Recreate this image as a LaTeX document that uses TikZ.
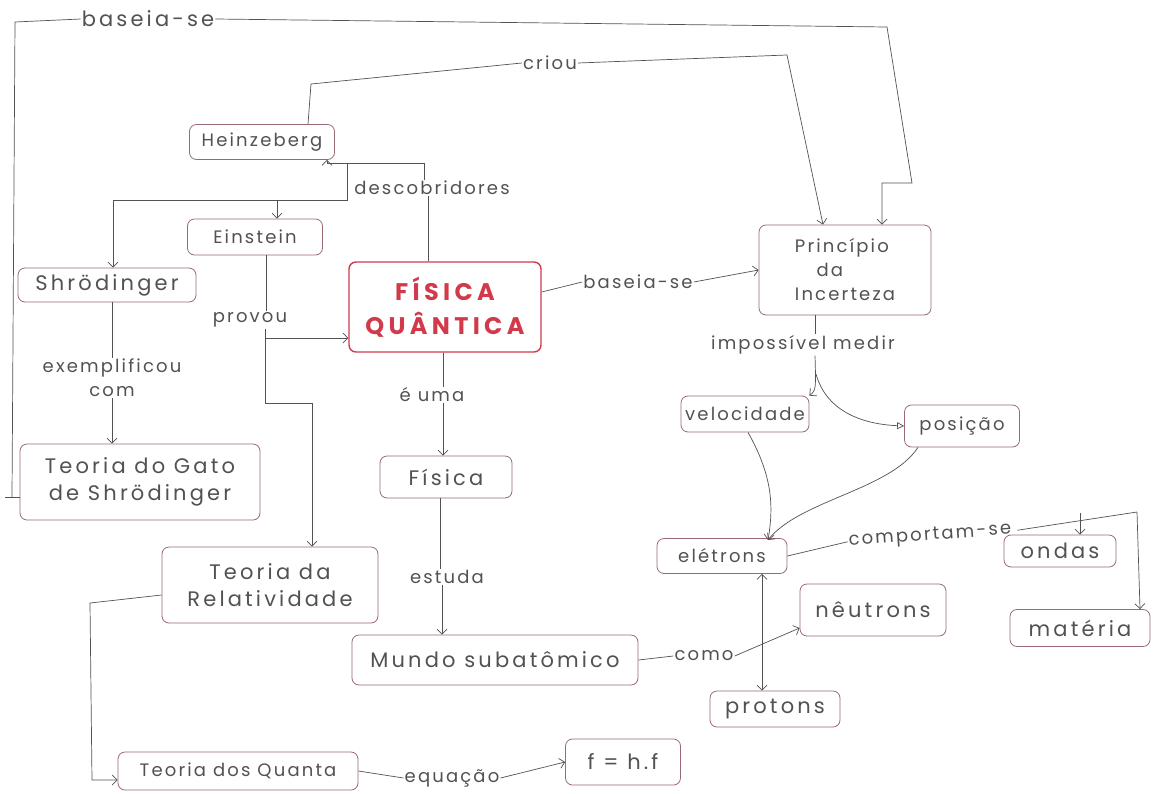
\documentclass[tikz,border=0pt]{standalone}
\usepackage{fontspec}
\setmainfont{Poppins}[LetterSpace=12]
\usetikzlibrary{arrows.meta}
\definecolor{ink}{HTML}{525252}
\definecolor{boxpen}{HTML}{9A6A72}
\definecolor{qred}{HTML}{D23A4C}

\begin{document}
\begin{tikzpicture}[x=1pt,y=-1pt,
  every node/.style={text=ink, font=\fontsize{18}{24}\selectfont},
  wide/.style={font=\fontsize{21}{27}\selectfont\addfontfeature{LetterSpace=15}},
  concept/.style={draw=boxpen, rounded corners=7pt, line width=0.8pt,
    inner sep=0pt, align=center},
  lbl/.style={inner sep=1pt, align=center},
  link/.style={draw=ink, line width=0.7pt},
  arr/.style={link, -{Straight Barb[length=5pt,width=10pt]}},
  tri/.style={link, -{Triangle[open,length=7pt,width=7pt]}},
]
\useasboundingbox[fill=white] (0,0) rectangle (1154,793);

% concepts
\node[concept, minimum width=145pt, minimum height=35pt] (heinz) at (262,142) {Heinzeberg};
\node[concept, minimum width=135pt, minimum height=36pt] (einst) at (255,237) {Einstein};
\node[concept, wide, minimum width=178pt, minimum height=34pt] (shro) at (107,285) {Shrödinger};
\node[concept, draw=qred, line width=1.4pt, minimum width=192pt, minimum height=90pt,
  text=qred, font=\fontsize{24}{34}\selectfont\bfseries\addfontfeature{LetterSpace=18}] (fq) at (445,307) {FÍSICA\\QUÂNTICA};
\node[concept, minimum width=172pt, minimum height=90pt, align=left] (princ) at (845,270)
  {Princípio\\\hspace*{1.2em}da\\Incerteza};
\node[concept, minimum width=128pt, minimum height=36pt] (veloc) at (745,414) {velocidade};
\node[concept, minimum width=115pt, minimum height=42pt] (posic) at (962,426) {posição};
\node[concept, wide, minimum width=240pt, minimum height=76pt] (gato) at (140,482) {Teoria do Gato\\de Shrödinger};
\node[concept, wide, minimum width=132pt, minimum height=42pt] (fisica) at (446,477) {Física};
\node[concept, minimum width=130pt, minimum height=35pt] (eletr) at (722,556) {elétrons};
\node[concept, wide, minimum width=112pt, minimum height=32pt] (ondas) at (1060,551) {ondas};
\node[concept, wide, minimum width=216pt, minimum height=76pt] (relat) at (270,585) {Teoria da\\Relatividade};
\node[concept, wide, minimum width=146pt, minimum height=52pt] (neutr) at (873,610) {nêutrons};
\node[concept, wide, minimum width=140pt, minimum height=37pt] (mater) at (1080,628) {matéria};
\node[concept, wide, minimum width=286pt, minimum height=50pt] (mundo) at (495,660) {Mundo subatômico};
\node[concept, wide, minimum width=130pt, minimum height=36pt] (proto) at (775,709) {protons};
\node[concept, minimum width=240pt, minimum height=38pt] (quanta) at (238,771) {Teoria dos Quanta};
\node[concept, wide, minimum width=115pt, minimum height=46pt] (eq) at (623,762) {f = h.f};

% linking phrases
\node[lbl, wide] (lbase1) at (148,19) {baseia-se};
\node[lbl] (lcriou) at (550,63) {criou};
\node[lbl] (ldesc) at (432,188) {descobridores};
\node[lbl] (lprov) at (250,320) {provou};
\node[lbl] (lexem) at (112,378) {exemplificou\\com};
\node[lbl] (lbase2) at (638,282) {baseia-se};
\node[lbl] (limp) at (803,345) {impossível medir};
\node[lbl] (luma) at (432,395) {é uma};
\node[lbl] (lestu) at (447,577) {estuda};
\node[lbl, rotate=4] (lcomp) at (930,536) {comportam-se};
\node[lbl] (lcomo) at (704,656) {como};
\node[lbl] (lequa) at (452,778) {equação};

% Teoria do Gato -> baseia-se -> Princípio
\draw[link] (gato.west |- 0,497) -- (5,497);
\draw[link] (12,497) -- (15,22) -- (lbase1.west);
\draw[arr] (lbase1.east) -- (887,27) -- (912,183) -- (882,183) -- (882,0 |- princ.north);

% Heinzeberg -> criou -> Princípio
\draw[link] (308,0 |- heinz.north) -- (311,84) -- (lcriou.west);
\draw[arr] (lcriou.east) -- (787,55) -- (823,0 |- princ.north);

% Física Quântica -> descobridores -> Heinzeberg, Einstein, Shrödinger
\draw[link] (428,0 |- fq.north) -- (428,0 |- ldesc.south);
\draw[arr] (424,0 |- ldesc.north) -- (424,163) -- (327,163) -- (327,0 |- heinz.south);
\draw[link] (347,163) -- (347,200) -- (113,200);
\draw[arr] (113,200) -- (113,0 |- shro.north);
\draw[arr] (277,200) -- (277,0 |- einst.north);

% Einstein -> provou -> Física Quântica, Relatividade
\draw[link] (266,0 |- einst.south) -- (266,0 |- lprov.north);
\draw[link] (265,0 |- lprov.south) -- (265,403) -- (312,403);
\draw[arr] (312,403) -- (312,0 |- relat.north);
\draw[arr] (265,338) -- (fq.west |- 0,338);

% Shrödinger -> exemplificou com -> Teoria do Gato
\draw[link] (112,0 |- shro.south) -- (lexem.north);
\draw[arr] (lexem.south) -- (112,0 |- gato.north);

% Física Quântica -> é uma -> Física -> estuda -> Mundo subatômico
\draw[link] (443,0 |- fq.south) -- (443,0 |- luma.north);
\draw[arr] (443,0 |- luma.south) -- (443,0 |- fisica.north);
\draw[link] (440,0 |- fisica.south) -- (440,0 |- lestu.north);
\draw[arr] (442,0 |- lestu.south) -- (442,0 |- mundo.north);

% Física Quântica -> baseia-se -> Princípio
\draw[link] (fq.east |- 0,292) -- (lbase2.west);
\draw[arr] (lbase2.east) -- (princ.west |- 0,270);

% Princípio -> impossível medir -> velocidade, posição
\draw[link] (815,0 |- princ.south) -- (815,0 |- limp.north);
\draw[arr] (815,0 |- limp.south) .. controls (816,390) .. (veloc.north east);
\draw[tri] (816,374) .. controls (826,410) and (860,424) .. (posic.west);

% velocidade, posição -> elétrons
\coordinate (ehit) at (768,540);
\draw[arr] (748,0 |- veloc.south) .. controls (772,475) and (774,505) .. (ehit);
\draw[arr] (918,0 |- posic.south) .. controls (890,490) and (800,500) .. (ehit);

% elétrons -> comportam-se -> ondas, matéria
\draw[link] (eletr.east) -- (lcomp.west);
\draw[link] ([xshift=5pt]lcomp.east) -- (1137,512);
\draw[arr] (1080,513) -- (1080,0 |- ondas.north);
\draw[arr] (1137,512) -- (1140,0 |- mater.north);

% Mundo subatômico -> como -> nêutrons; elétrons <-> protons
\draw[link] (mundo.east) -- (lcomo.west);
\draw[arr] (lcomo.east) -- (neutr.west |- 0,628);
\draw[link, {Straight Barb[length=5pt,width=10pt]}-{Straight Barb[length=5pt,width=10pt]}]
  (762,0 |- eletr.south) -- (762,0 |- proto.north);

% Relatividade -> Teoria dos Quanta -> equação -> f = h.f
\draw[arr] (relat.west |- 0,595) -- (90,603) -- (92,780) -- (quanta.west |- 0,780);
\draw[link] (quanta.east) -- (lequa.west);
\draw[arr] (lequa.east) -- (eq.west);
\end{tikzpicture}
\end{document}
